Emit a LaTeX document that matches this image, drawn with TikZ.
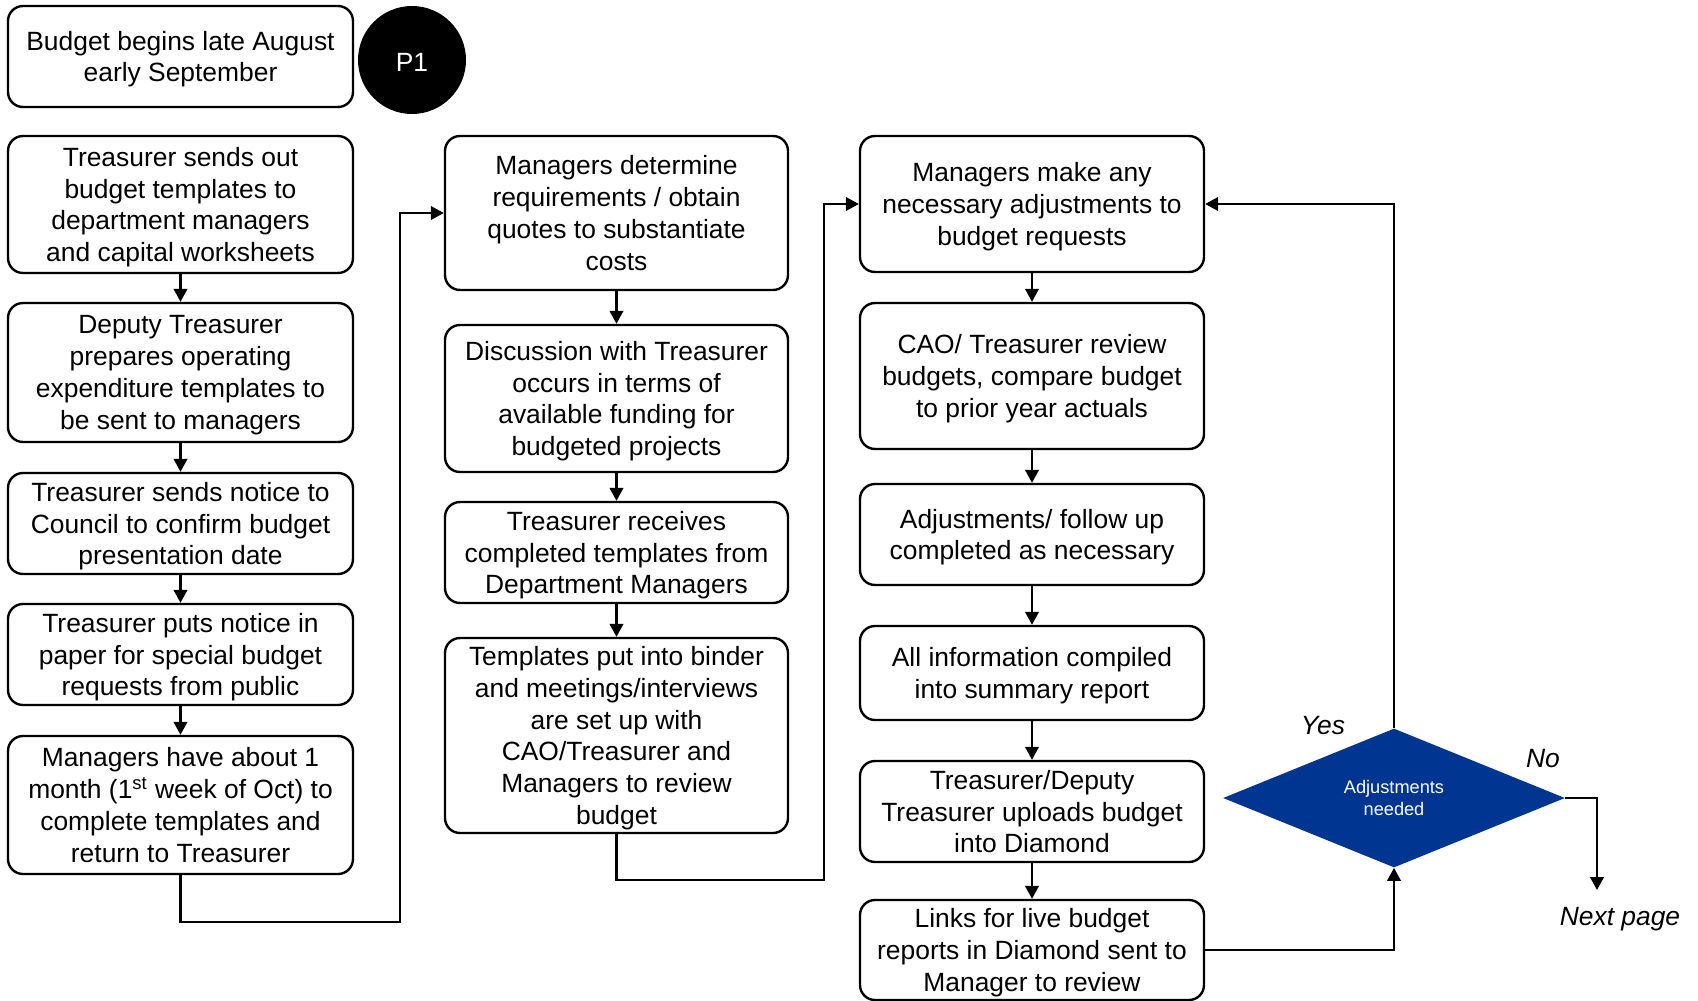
\documentclass[tikz,border=0pt]{standalone}
\usepackage{fontspec}
\setmainfont{Liberation Sans}
\usetikzlibrary{shapes.geometric,arrows.meta}
\definecolor{decblue}{RGB}{0,53,145}
\begin{document}
\begin{tikzpicture}[x=0.5pt,y=-0.5pt,
  every node/.style={font=\fontsize{13.2}{15.9}\selectfont},
  stepbox/.style={draw, line width=1.2pt, rounded corners=7.5pt, align=center,
    inner sep=0pt, minimum width=#1, text depth=-0.4pt},
  stepbox/.default=172.5pt,
  arr/.style={line width=1.1pt, -{Triangle[length=6.5pt,width=6.8pt]}}]
\useasboundingbox (0,0) rectangle (1698,1001);

% page marker
\node[stepbox, minimum height=50.5pt] (b0) at (180.5,56.5) {Budget begins late August\\early September};
\node[circle, fill=black, text=white, minimum size=54pt, inner sep=0pt] (p1) at (412,60) {\raisebox{-1pt}[\height][\depth]{P1}};

% left column
\node[stepbox, minimum height=68.5pt] (l1) at (180.5,204.5) {Treasurer sends out\\budget templates to\\department managers\\and capital worksheets};
\node[stepbox, minimum height=69.5pt] (l2) at (180.5,372.5) {Deputy Treasurer\\prepares operating\\expenditure templates to\\be sent to managers};
\node[stepbox, minimum height=50.5pt] (l3) at (180.5,523.5) {Treasurer sends notice to\\Council to confirm budget\\presentation date};
\node[stepbox, minimum height=50.5pt] (l4) at (180.5,654.5) {Treasurer puts notice in\\paper for special budget\\requests from public};
\node[stepbox, minimum height=69pt] (l5) at (180.5,805) {Managers have about 1\\month (1\textsuperscript{st} week of Oct) to\\complete templates and\\return to Treasurer};

% middle column
\node[stepbox=171.5pt, minimum height=77pt] (m1) at (616.5,213) {Managers determine\\requirements / obtain\\quotes to substantiate\\costs};
\node[stepbox=171.5pt, minimum height=73.5pt] (m2) at (616.5,398.5) {Discussion with Treasurer\\occurs in terms of\\available funding for\\budgeted projects};
\node[stepbox=171.5pt, minimum height=50.5pt] (m3) at (616.5,552.5) {Treasurer receives\\completed templates from\\Department Managers};
\node[stepbox=171.5pt, minimum height=97.5pt] (m4) at (616.5,735.5) {Templates put into binder\\and meetings/interviews\\are set up with\\CAO/Treasurer and\\Managers to review\\budget};

% right column
\node[stepbox=172pt, minimum height=68pt] (r1) at (1032,204) {Managers make any\\necessary adjustments to\\budget requests};
\node[stepbox=172pt, minimum height=73pt] (r2) at (1032,376) {CAO/ Treasurer review\\budgets, compare budget\\to prior year actuals};
\node[stepbox=172pt, minimum height=50.5pt] (r3) at (1032,534.5) {Adjustments/ follow up\\completed as necessary};
\node[stepbox=172pt, minimum height=47pt] (r4) at (1032,673) {All information compiled\\into summary report};
\node[stepbox=172pt, minimum height=50.5pt] (r5) at (1032,811.5) {Treasurer/Deputy\\Treasurer uploads budget\\into Diamond};
\node[stepbox=172pt, minimum height=50pt] (r6) at (1032,950) {Links for live budget\\reports in Diamond sent to\\Manager to review};

% decision
\node[diamond, fill=decblue, text=white, align=center, inner sep=0pt,
  minimum width=171pt, minimum height=69.5pt,
  font=\fontsize{9.1}{11}\selectfont] (dec) at (1394,798) {Adjustments\\needed};

\node[font=\fontsize{13.2}{15.9}\selectfont\itshape] (yes) at (1323,726) {Yes};
\node[font=\fontsize{13.2}{15.9}\selectfont\itshape] (no) at (1543,759) {No};
\node[font=\fontsize{13.2}{15.9}\selectfont\itshape] (next) at (1620,919) {Next page};

% routing points
\coordinate (c1) at (400,922);
\coordinate (c2) at (824,880);
\coordinate (c3) at (1597,890);

% connectors
\draw[arr] (l1) -- (l2);
\draw[arr] (l2) -- (l3);
\draw[arr] (l3) -- (l4);
\draw[arr] (l4) -- (l5);
\draw[arr] (l5.south) |- (c1) |- (m1.west);

\draw[arr] (m1) -- (m2);
\draw[arr] (m2) -- (m3);
\draw[arr] (m3) -- (m4);
\draw[arr] (m4.south) |- (c2) |- (r1.west);

\draw[arr] (r1) -- (r2);
\draw[arr] (r2) -- (r3);
\draw[arr] (r3) -- (r4);
\draw[arr] (r4) -- (r5);
\draw[arr] (r5) -- (r6);

\draw[arr] (r6.east) -| (dec.south);
\draw[arr] (dec.north) |- (r1.east);
\draw[arr] (dec.east) -| (c3);
\end{tikzpicture}
\end{document}
